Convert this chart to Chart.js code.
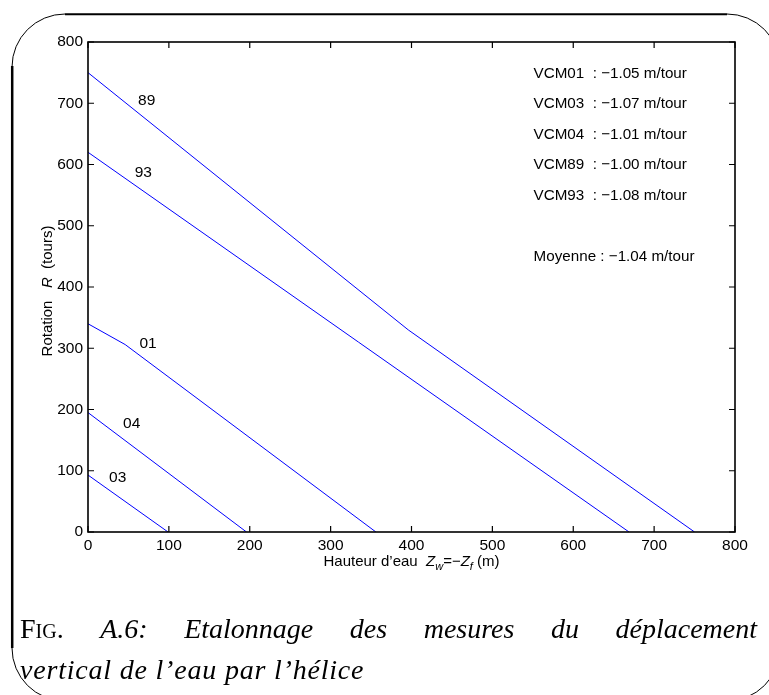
<!DOCTYPE html>
<html>
<head>
<meta charset="utf-8">
<script src="https://cdn.jsdelivr.net/npm/chart.js@4.4.0/dist/chart.umd.min.js"></script>
<style>
    html, body { margin: 0; padding: 0; background: #fff; }
    #cadre { position: relative; width: 769px; height: 695px; overflow: hidden; }
    #graphe { position: absolute; left: 0; top: 0; }
    .legende { position: absolute; left: 20px; width: 737px; font-family: "Liberation Serif", "DejaVu Serif", serif; font-size: 28px; line-height: 28px; color: #000; }
    #ligne1 { top: 615px; text-align: justify; text-align-last: justify; }
    #ligne2 { top: 656px; white-space: nowrap; letter-spacing: 0.8px; }
    .pc { font-style: normal; font-variant: small-caps; }
</style>
</head>
<body>
<div id="cadre">
    <canvas id="graphe" width="769" height="695"></canvas>
    <div class="legende" id="ligne1"><span class="pc">Fig.</span> <i>A.6: Etalonnage des mesures du déplacement</i></div>
    <div class="legende" id="ligne2"><i>vertical de l’eau par l’hélice</i></div>
</div>
<script>
// graduations des axes
const hauteurTicks = [0, 100, 200, 300, 400, 500, 600, 700, 800];
const rotationTicks = [0, 100, 200, 300, 400, 500, 600, 700, 800];

// courbes d'étalonnage (hauteur d'eau en m, rotation en tours)
const hauteur89 = [0, 396, 750];
const rotation89 = [750, 330, 0];
const hauteur93 = [0, 669];
const rotation93 = [620, 0];
const hauteur01 = [0, 46, 356];
const rotation01 = [340, 306, 0];
const hauteur04 = [0, 196];
const rotation04 = [195, 0];
const hauteur03 = [0, 99];
const rotation03 = [93, 0];

// noms des courbes
const nomsCourbes = ['89', '93', '01', '04', '03'];

// pentes affichées
const etiquettesVCM = ['VCM01', 'VCM03', 'VCM04', 'VCM89', 'VCM93'];
const pentesVCM = ['−1.05', '−1.07', '−1.01', '−1.00', '−1.08'];
const penteMoyenne = '−1.04';

const series = [
    [hauteur89, rotation89],
    [hauteur93, rotation93],
    [hauteur01, rotation01],
    [hauteur04, rotation04],
    [hauteur03, rotation03]
];

// position des noms de courbes (coordonnées des données)
const posNoms = [[72.6, 697], [68.4, 579], [74.2, 301], [54, 169], [36.7, 81]];

const SANS = '"Liberation Sans", Arial, Helvetica, sans-serif';

function ecrireMorceaux(ctx, morceaux, x, y) {
    let largeur = 0;
    morceaux.forEach(m => { ctx.font = m.font; largeur += ctx.measureText(m.t).width; });
    let cx = x - largeur / 2;
    morceaux.forEach(m => {
        ctx.font = m.font;
        ctx.fillText(m.t, cx, y + (m.dy || 0));
        cx += ctx.measureText(m.t).width;
    });
}

const decorPlugin = {
    id: 'decor',
    beforeDraw(chart) {
        const ctx = chart.ctx;
        ctx.save();
        ctx.strokeStyle = '#000';
        // cadre arrondi de la page
        ctx.lineWidth = 2.5;
        ctx.beginPath(); ctx.moveTo(12.2, 66); ctx.lineTo(12.2, 648); ctx.stroke();
        ctx.lineWidth = 2;
        ctx.beginPath(); ctx.moveTo(65, 14.3); ctx.lineTo(727, 14.3); ctx.stroke();
        ctx.lineWidth = 1;
        ctx.beginPath(); ctx.arc(65, 67, 53, Math.PI, 1.5 * Math.PI); ctx.stroke();
        ctx.beginPath(); ctx.arc(65, 648, 53, 0.5 * Math.PI, Math.PI); ctx.stroke();
        ctx.beginPath(); ctx.arc(727, 67, 53, 1.5 * Math.PI, 2 * Math.PI); ctx.stroke();
        ctx.beginPath(); ctx.arc(727, 648, 53, 0, 0.5 * Math.PI); ctx.stroke();
        ctx.restore();
    },
    afterDraw(chart) {
        const ctx = chart.ctx;
        const xs = chart.scales.x, ys = chart.scales.y;
        const a = chart.chartArea;
        ctx.save();
        // boîte des axes et graduations intérieures
        ctx.strokeStyle = '#000';
        ctx.lineWidth = 1.6;
        ctx.strokeRect(a.left, a.top, a.right - a.left, a.bottom - a.top);
        ctx.lineWidth = 1.2;
        ctx.beginPath();
        hauteurTicks.forEach(v => {
            const px = xs.getPixelForValue(v);
            ctx.moveTo(px, a.bottom); ctx.lineTo(px, a.bottom - 6);
            ctx.moveTo(px, a.top); ctx.lineTo(px, a.top + 6);
        });
        rotationTicks.forEach(v => {
            const py = ys.getPixelForValue(v);
            ctx.moveTo(a.left, py); ctx.lineTo(a.left + 6, py);
            ctx.moveTo(a.right, py); ctx.lineTo(a.right - 6, py);
        });
        ctx.stroke();

        ctx.fillStyle = '#000';
        // noms des courbes
        ctx.font = '15.5px ' + SANS;
        ctx.textAlign = 'center';
        ctx.textBaseline = 'alphabetic';
        nomsCourbes.forEach((n, i) => {
            ctx.fillText(n, xs.getPixelForValue(posNoms[i][0]), ys.getPixelForValue(posNoms[i][1]));
        });

        // pentes
        ctx.font = '15.2px ' + SANS;
        ctx.textAlign = 'left';
        const xl = xs.getPixelForValue(551);
        etiquettesVCM.forEach((e, i) => {
            ctx.fillText(e + '  : ' + pentesVCM[i] + ' m/tour', xl, ys.getPixelForValue(742 - 50 * i));
        });
        ctx.fillText('Moyenne : ' + penteMoyenne + ' m/tour', xl, ys.getPixelForValue(442));

        // titres des axes
        const n = '15px ' + SANS, it = 'italic 15px ' + SANS, sub = 'italic 11px ' + SANS;
        ctx.textAlign = 'left';
        ecrireMorceaux(ctx, [
            { t: 'Hauteur d\u2019eau  ', font: n },
            { t: 'Z', font: it },
            { t: 'w', font: sub, dy: 4 },
            { t: '=\u2212', font: n },
            { t: 'Z', font: it },
            { t: 'f', font: sub, dy: 4 },
            { t: ' (m)', font: n }
        ], (a.left + a.right) / 2, 566);

        ctx.translate(52, 291);
        ctx.rotate(-Math.PI / 2);
        ecrireMorceaux(ctx, [
            { t: 'Rotation   ', font: n },
            { t: 'R', font: it },
            { t: '  (tours)', font: n }
        ], 0, 0);
        ctx.restore();
    }
};

document.addEventListener('DOMContentLoaded', function() {
    const ctx = document.getElementById('graphe').getContext('2d');
    const datasets = series.map(s => ({
        data: s[0].map((h, i) => ({ x: h, y: s[1][i] })),
        borderColor: '#0000ff',
        borderWidth: 1,
        pointRadius: 0,
        showLine: true,
        fill: false,
        tension: 0
    }));
    new Chart(ctx, {
        type: 'scatter',
        data: { datasets: datasets },
        options: {
            responsive: false,
            animation: false,
            events: [],
            layout: { padding: { top: 42, right: 34, bottom: 0, left: 0 } },
            plugins: { legend: { display: false }, tooltip: { enabled: false } },
            scales: {
                x: {
                    type: 'linear', min: 0, max: 800,
                    afterBuildTicks: s => { s.ticks = hauteurTicks.map(v => ({ value: v })); },
                    afterFit: s => { s.height = 163; },
                    grid: { display: false, drawTicks: false },
                    border: { display: false },
                    ticks: { color: '#000', font: { size: 15.5, family: SANS }, padding: 4, maxRotation: 0 }
                },
                y: {
                    type: 'linear', min: 0, max: 800,
                    afterBuildTicks: s => { s.ticks = rotationTicks.map(v => ({ value: v })); },
                    afterFit: s => { s.width = 88; },
                    grid: { display: false, drawTicks: false },
                    border: { display: false },
                    ticks: { color: '#000', font: { size: 15.5, family: SANS }, padding: 5 }
                }
            }
        },
        plugins: [decorPlugin]
    });
});
</script>
</body>
</html>
